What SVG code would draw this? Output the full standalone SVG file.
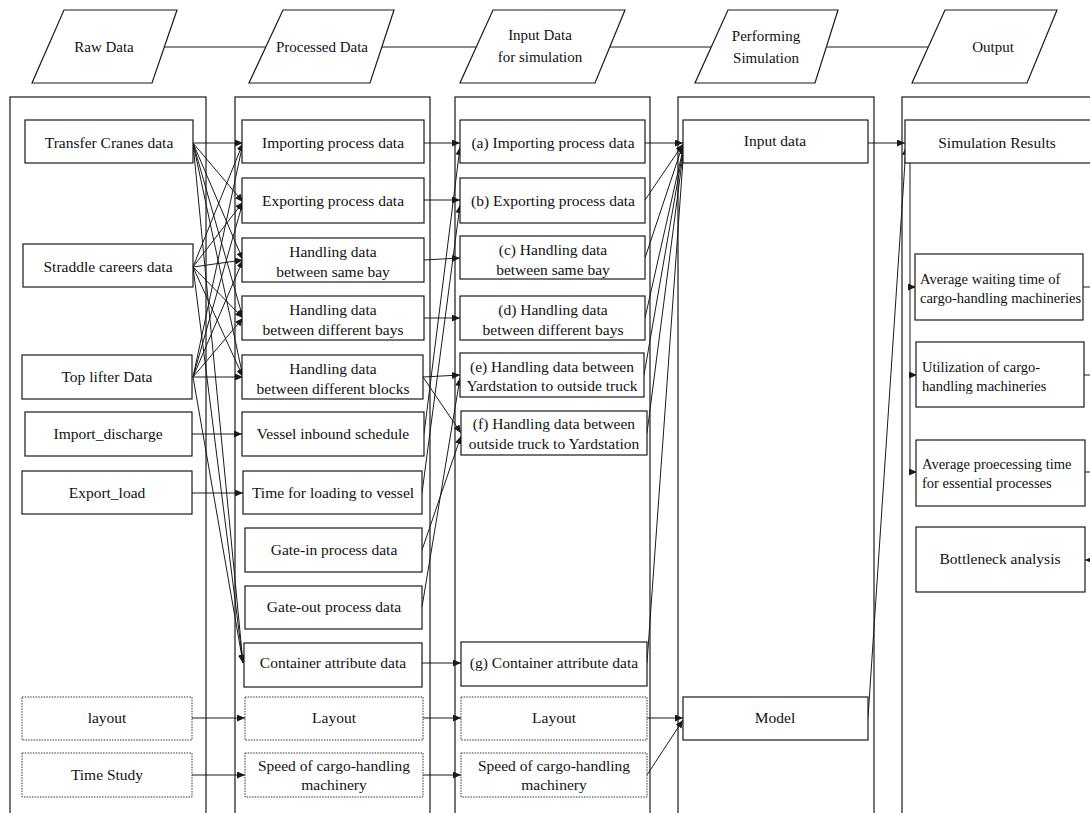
<svg xmlns="http://www.w3.org/2000/svg" width="1090" height="813" viewBox="0 0 1090 813">
<style>
  .col{fill:none;stroke:#1a1a1a;stroke-width:1.2}
  .box{fill:#fff;stroke:#1a1a1a;stroke-width:1.2}
  .dot{fill:#fff;stroke:#333;stroke-width:1;stroke-dasharray:1.5 1.2}
  .hdr{fill:#fff;stroke:#1a1a1a;stroke-width:1.2}
  .t{font-family:"Liberation Serif","Times New Roman",serif;font-size:15.5px;fill:#111;text-anchor:middle}
  .h{font-family:"Liberation Serif","Times New Roman",serif;font-size:15px;fill:#111;text-anchor:middle}
  .ts{font-family:"Liberation Serif","Times New Roman",serif;font-size:14.5px;fill:#111}
  .c{fill:none;stroke:#1a1a1a;stroke-width:1;marker-end:url(#ah)}
  .l{fill:none;stroke:#1a1a1a;stroke-width:1}
</style>
<defs>
  <marker id="ah" markerWidth="8" markerHeight="7" refX="8" refY="3.5" orient="auto" markerUnits="userSpaceOnUse">
    <path d="M0,0 L8,3.5 L0,7 z" fill="#1a1a1a"/>
  </marker>
</defs>
<rect width="1090" height="813" fill="#fff"/>

<g id="header-links">
  <line class="l" x1="150" y1="47" x2="285" y2="47"/>
  <line class="l" x1="370" y1="47" x2="490" y2="47"/>
  <line class="l" x1="600" y1="47" x2="720" y2="47"/>
  <line class="l" x1="820" y1="47" x2="935" y2="47"/>
</g>

<g id="hdr-raw"><polygon class="hdr" points="64,10 177,10 152,83 32,83"/><text class="h" x="104" y="52">Raw Data</text></g>
<g id="hdr-processed"><polygon class="hdr" points="283,10 394,10 370,83 249,83"/><text class="h" x="322" y="52">Processed Data</text></g>
<g id="hdr-input"><polygon class="hdr" points="493,10 625,10 595,83 460,83"/><text class="h" x="540" y="40">Input Data</text><text class="h" x="540" y="62">for simulation</text></g>
<g id="hdr-perf"><polygon class="hdr" points="728,10 838,10 815,83 695,83"/><text class="h" x="766" y="41">Performing</text><text class="h" x="766" y="63">Simulation</text></g>
<g id="hdr-output"><polygon class="hdr" points="945,10 1057,10 1027,83 912,83"/><text class="h" x="993" y="52">Output</text></g>

<g id="columns">
  <rect class="col" x="10" y="97" width="196" height="740"/>
  <rect class="col" x="235" y="97" width="195" height="740"/>
  <rect class="col" x="455" y="97" width="195" height="740"/>
  <rect class="col" x="678" y="97" width="196" height="740"/>
  <rect class="col" x="902" y="97" width="220" height="740"/>
</g>

<g id="connectors">
  <path class="c" d="M193,143 L243,143"/>
  <path class="c" d="M193,143 L243,202"/>
  <path class="c" d="M193,143 L243,260"/>
  <path class="c" d="M193,143 L243,318"/>
  <path class="c" d="M193,143 L243,377"/>
  <path class="c" d="M193,143 L243,663"/>
  <path class="c" d="M193,267 L243,143"/>
  <path class="c" d="M193,267 L243,202"/>
  <path class="c" d="M193,267 L243,260"/>
  <path class="c" d="M193,267 L243,318"/>
  <path class="c" d="M193,267 L243,377"/>
  <path class="c" d="M193,267 L243,663"/>
  <path class="c" d="M193,377 L243,143"/>
  <path class="c" d="M193,377 L243,202"/>
  <path class="c" d="M193,377 L243,260"/>
  <path class="c" d="M193,377 L243,318"/>
  <path class="c" d="M193,377 L243,377"/>
  <path class="c" d="M193,377 L243,663"/>
  <path class="c" d="M192,434 L242,434"/>
  <path class="c" d="M192,493 L243,493"/>
  <path class="c" d="M192,718 L245,718"/>
  <path class="c" d="M192,775 L245,775"/>
  <path class="c" d="M424,143 L460,143"/>
  <path class="c" d="M424,200 L460,200"/>
  <path class="c" d="M424,260 L460,258"/>
  <path class="c" d="M424,318 L460,318"/>
  <path class="c" d="M423,377 L460,375"/>
  <path class="c" d="M423,377 L461,433"/>
  <path class="c" d="M424,434 L460,147"/>
  <path class="c" d="M422,493 L460,205"/>
  <path class="c" d="M422,550 L461,436"/>
  <path class="c" d="M422,607 L460,378"/>
  <path class="c" d="M422,663 L461,663"/>
  <path class="c" d="M423,718 L461,718"/>
  <path class="c" d="M423,775 L461,775"/>
  <path class="c" d="M645,143 L683,143"/>
  <path class="c" d="M645,200 L683,144"/>
  <path class="c" d="M645,258 L683,144"/>
  <path class="c" d="M645,318 L684,145"/>
  <path class="c" d="M644,375 L684,145"/>
  <path class="c" d="M647,433 L684,146"/>
  <path class="c" d="M647,663 L684,146"/>
  <path class="c" d="M647,718 L683,718"/>
  <path class="c" d="M647,775 L683,720"/>
  <path class="c" d="M868,143 L905,143"/>
  <path class="c" d="M868,718 L906,147"/>
  <path class="l" d="M910,163 L910,472"/>
  <path class="c" d="M910,287 L916,287"/>
  <path class="c" d="M910,375 L917,375"/>
  <path class="c" d="M910,472 L917,472"/>
  <path class="l" d="M1083,287 L1092,287"/>
  <path class="l" d="M1084,375 L1092,375"/>
  <path class="l" d="M1085,472 L1092,472"/>
  <path class="c" d="M1095,560 L1085,560"/>
</g>

<g id="raw-tc"><rect class="box" x="25" y="120" width="168" height="43"/><text class="t" x="109" y="148">Transfer Cranes data</text></g>
<g id="raw-sc"><rect class="box" x="23" y="244" width="170" height="43"/><text class="t" x="108" y="272">Straddle careers data</text></g>
<g id="raw-tl"><rect class="box" x="22" y="355" width="170" height="44"/><text class="t" x="107" y="382">Top lifter Data</text></g>
<g id="raw-imp"><rect class="box" x="25" y="412" width="167" height="44"/><text class="t" x="108" y="439">Import_discharge</text></g>
<g id="raw-exp"><rect class="box" x="22" y="471" width="170" height="43"/><text class="t" x="107" y="498">Export_load</text></g>
<g id="raw-layout"><rect class="dot" x="22" y="697" width="170" height="43"/><text class="t" x="107" y="723">layout</text></g>
<g id="raw-time"><rect class="dot" x="22" y="753" width="170" height="44"/><text class="t" x="107" y="780">Time Study</text></g>

<g id="p-imp"><rect class="box" x="242" y="120" width="182" height="43"/><text class="t" x="333" y="148">Importing process data</text></g>
<g id="p-exp"><rect class="box" x="242" y="178" width="182" height="45"/><text class="t" x="333" y="206">Exporting process data</text></g>
<g id="p-same"><rect class="box" x="242" y="238" width="182" height="44"/><text class="t" x="333" y="257">Handling data</text><text class="t" x="333" y="277">between same bay</text></g>
<g id="p-bays"><rect class="box" x="242" y="296" width="182" height="44"/><text class="t" x="333" y="315">Handling data</text><text class="t" x="333" y="335">between different bays</text></g>
<g id="p-blocks"><rect class="box" x="242" y="355" width="181" height="44"/><text class="t" x="333" y="374">Handling data</text><text class="t" x="333" y="394">between different blocks</text></g>
<g id="p-vessel"><rect class="box" x="242" y="412" width="182" height="44"/><text class="t" x="333" y="439">Vessel inbound schedule</text></g>
<g id="p-loading"><rect class="box" x="243" y="471" width="179" height="43"/><text class="t" x="333" y="498">Time for loading to vessel</text></g>
<g id="p-gatein"><rect class="box" x="245" y="528" width="177" height="44"/><text class="t" x="334" y="555">Gate-in process data</text></g>
<g id="p-gateout"><rect class="box" x="245" y="586" width="177" height="43"/><text class="t" x="334" y="612">Gate-out process data</text></g>
<g id="p-container"><rect class="box" x="244" y="643" width="178" height="44"/><text class="t" x="333" y="668">Container attribute data</text></g>
<g id="p-layout"><rect class="dot" x="245" y="697" width="178" height="43"/><text class="t" x="334" y="723">Layout</text></g>
<g id="p-speed"><rect class="dot" x="245" y="753" width="178" height="44"/><text class="t" x="334" y="771">Speed of cargo-handling</text><text class="t" x="334" y="790">machinery</text></g>

<g id="i-a"><rect class="box" x="460" y="120" width="185" height="43"/><text class="t" x="553" y="148">(a) Importing process data</text></g>
<g id="i-b"><rect class="box" x="460" y="178" width="185" height="45"/><text class="t" x="553" y="206">(b) Exporting process data</text></g>
<g id="i-c"><rect class="box" x="460" y="236" width="185" height="43"/><text class="t" x="553" y="255">(c) Handling data</text><text class="t" x="553" y="275">between same bay</text></g>
<g id="i-d"><rect class="box" x="460" y="296" width="185" height="44"/><text class="t" x="553" y="315">(d) Handling data</text><text class="t" x="553" y="335">between different bays</text></g>
<g id="i-e"><rect class="box" x="460" y="353" width="184" height="44"/><text class="t" x="552" y="372">(e) Handling data between</text><text class="t" x="552" y="391">Yardstation to outside truck</text></g>
<g id="i-f"><rect class="box" x="461" y="411" width="186" height="44"/><text class="t" x="554" y="429">(f) Handling data between</text><text class="t" x="554" y="449">outside truck to Yardstation</text></g>
<g id="i-g"><rect class="box" x="461" y="642" width="186" height="44"/><text class="t" x="554" y="668">(g) Container attribute data</text></g>
<g id="i-layout"><rect class="dot" x="461" y="697" width="186" height="43"/><text class="t" x="554" y="723">Layout</text></g>
<g id="i-speed"><rect class="dot" x="461" y="753" width="186" height="44"/><text class="t" x="554" y="771">Speed of cargo-handling</text><text class="t" x="554" y="790">machinery</text></g>

<g id="s-input"><rect class="box" x="683" y="120" width="185" height="43"/><text class="t" x="775" y="146">Input data</text></g>
<g id="s-model"><rect class="box" x="683" y="697" width="185" height="43"/><text class="t" x="775" y="723">Model</text></g>

<g id="o-results"><rect class="box" x="905" y="120" width="200" height="43"/><text class="t" x="997" y="148">Simulation Results</text></g>
<g id="o-wait"><rect class="box" x="915" y="254" width="168" height="66"/><text class="ts" x="920" y="284">Average waiting time of</text><text class="ts" x="920" y="303">cargo-handling machineries</text></g>
<g id="o-util"><rect class="box" x="916" y="342" width="168" height="65"/><text class="ts" x="922" y="372">Utilization of cargo-</text><text class="ts" x="922" y="391">handling machineries</text></g>
<g id="o-proc"><rect class="box" x="916" y="440" width="169" height="66"/><text class="ts" x="922" y="469">Average proecessing time</text><text class="ts" x="922" y="488">for essential processes</text></g>
<g id="o-bottleneck"><rect class="box" x="916" y="527" width="169" height="65"/><text class="t" x="1000" y="564">Bottleneck analysis</text></g>
</svg>
